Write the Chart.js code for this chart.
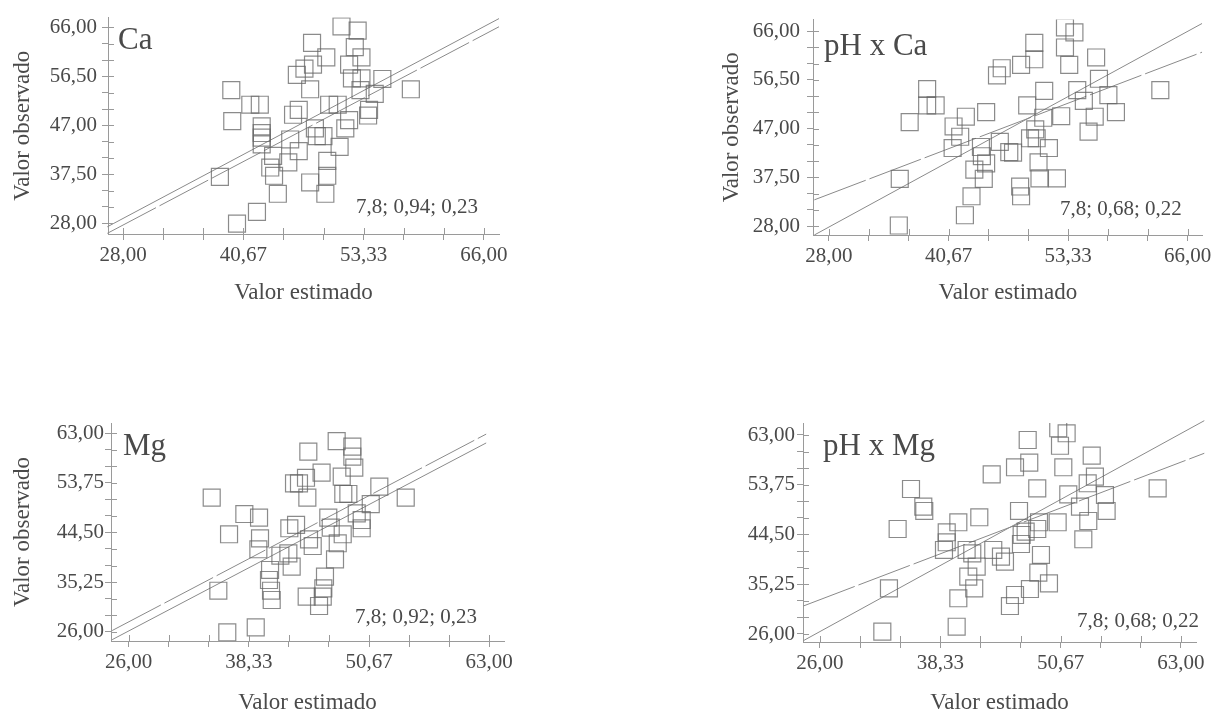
<!DOCTYPE html>
<html>
<head>
<meta charset="utf-8">
<script src="https://cdn.jsdelivr.net/npm/chart.js@4/dist/chart.umd.min.js"></script>
<style>
  html, body { margin: 0; padding: 0; background: #fff; width: 1216px; height: 711px; overflow: hidden; }
  .panel { position: absolute; }
</style>
</head>
<body>
<div class="panel" id="p1"><canvas id="c1"></canvas></div>
<div class="panel" id="p2"><canvas id="c2"></canvas></div>
<div class="panel" id="p3"><canvas id="c3"></canvas></div>
<div class="panel" id="p4"><canvas id="c4"></canvas></div>
<script>
// ---- data ----

// Ca
const caEstimado  = [51.0, 52.7, 47.9, 52.4, 49.4, 53.1, 48.0, 51.8, 47.1, 46.3, 52.1, 53.1, 55.3, 47.7, 53.0, 54.5, 58.3,
                     39.4, 41.4, 42.4, 39.5, 49.7, 50.6, 46.5, 45.9, 53.9, 53.8, 51.8, 42.6, 42.6, 42.6, 42.6, 51.4, 48.2,
                     48.4, 49.1, 45.6, 50.8, 46.5, 43.8, 45.4, 43.5, 43.9, 49.5, 49.5, 47.7, 38.2, 44.3, 49.3, 42.1, 40.0];
const caObservado = [66.2, 65.4, 63.0, 62.2, 60.2, 60.2, 58.8, 58.8, 58.0, 56.8, 56.1, 56.1, 56.0, 54.0, 53.85, 53.1, 54.0,
                     53.85, 51.0, 51.0, 47.8, 51.0, 51.0, 50.0, 49.05, 50.0, 48.9, 48.0, 46.8, 45.5, 44.6, 43.3, 46.4, 46.4,
                     44.9, 44.9, 44.25, 42.8, 42.0, 41.05, 39.8, 38.8, 37.2, 40.1, 37.2, 35.9, 37.0, 33.7, 33.7, 30.2, 27.9];
const caLineX  = [26.35, 67.58];
const caLine1Y = [27.29, 67.73];
const caLine2Y = [26.02, 66.14];

// pH x Ca
const phCaEstimado  = [53.0, 54.0, 49.75, 53.0, 49.75, 48.35, 56.3, 53.45, 46.3, 45.8, 56.6, 38.4, 50.8, 54.3, 57.6, 63.1,
                       38.4, 39.3, 49.0, 55.0, 44.65, 42.5, 36.55, 50.7, 52.6, 56.15, 58.4, 41.2, 41.9, 49.85, 55.5, 41.1,
                       44.1, 46.1, 49.3, 50.0, 51.3, 47.1, 47.5, 44.2, 44.65, 43.4, 44.4, 50.2, 50.3, 52.15, 48.25, 48.35,
                       43.1, 35.5, 42.4, 35.4];
const phCaObservado = [66.7, 65.75, 63.7, 62.8, 60.5, 59.4, 60.85, 59.4, 58.75, 57.35, 56.7, 54.7, 54.35, 54.5, 53.5, 54.5,
                       51.5, 51.5, 51.5, 52.4, 50.2, 49.3, 48.25, 49.1, 49.4, 49.3, 50.2, 47.4, 45.4, 46.85, 46.4, 43.2,
                       43.4, 44.4, 45.1, 45.1, 43.2, 42.4, 42.3, 41.6, 40.2, 39.0, 37.2, 40.4, 37.3, 37.3, 35.7, 33.8,
                       33.8, 37.2, 30.1, 28.1];
const phCaLineX  = [26.45, 67.52];
const phCaLine1Y = [26.25, 67.47];
const phCaLine2Y = [33.1, 61.88];

// Mg
const mgEstimado  = [47.35, 48.96, 44.44, 48.96, 49.16, 45.8, 44.2, 47.87, 42.97, 43.48, 44.34, 48.03, 48.55, 51.73, 54.44,
                     34.52, 37.87, 39.38, 36.3, 46.49, 42.49, 43.18, 49.41, 50.85, 49.92, 49.92, 46.74, 47.97, 44.51, 44.89,
                     39.48, 39.31, 47.46, 47.18, 41.57, 42.39, 42.73, 40.51, 40.4, 40.61, 40.68, 46.15, 45.98, 45.92, 44.27,
                     45.54, 35.2, 39.04, 36.12];
const mgObservado = [61.55, 60.5, 59.57, 58.64, 56.6, 55.65, 54.7, 54.9, 53.67, 53.67, 51.0, 51.68, 51.68, 53.04, 51.0,
                     51.0, 47.94, 47.26, 44.16, 47.26, 45.28, 45.9, 48.07, 49.8, 46.82, 45.28, 45.4, 44.16, 43.22, 41.97,
                     43.41, 41.36, 42.48, 39.49, 40.16, 40.6, 38.11, 37.5, 35.63, 33.63, 31.9, 36.25, 34.08, 32.52, 32.52,
                     30.78, 33.63, 26.8, 25.87];
const mgLineX  = [24.3, 62.7];
const mgLine1Y = [26.2, 62.85];
const mgLine2Y = [24.5, 61.2];

// pH x Mg
const phMgEstimado  = [50.42, 51.28, 47.29, 50.6, 53.85, 45.99, 47.45, 50.94, 43.6, 35.33, 48.27, 54.18, 53.44, 51.45, 55.21,
                       60.61, 36.59, 36.69, 46.4, 52.65, 55.38, 33.96, 40.18, 42.33, 48.45, 50.36, 53.5, 38.99, 38.99, 38.71,
                       41.03, 41.61, 43.76, 44.55, 44.96, 46.67, 47.08, 48.27, 46.6, 48.65, 52.99, 42.06, 41.2, 41.81, 48.38,
                       49.47, 47.52, 45.99, 45.47, 40.18, 33.07, 40.01, 32.39];
const phMgObservado = [64.25, 63.32, 62.07, 61.0, 59.15, 57.0, 57.85, 57.0, 55.69, 52.96, 53.09, 55.25, 54.02, 51.97, 51.84,
                       53.09, 49.67, 48.87, 48.87, 49.67, 48.87, 45.52, 46.77, 47.7, 46.77, 46.77, 47.01, 44.91, 43.05, 41.62,
                       41.62, 41.0, 41.62, 40.37, 39.44, 44.41, 45.02, 45.52, 42.73, 40.69, 43.61, 38.51, 36.65, 34.49, 37.4,
                       35.42, 34.36, 33.25, 31.2, 32.64, 34.49, 27.35, 26.43];
const phMgLineX  = [24.29, 65.39];
const phMgLine1Y = [24.75, 65.66];
const phMgLine2Y = [31.2, 59.6];

// tick labels
const caTicks = [28, 40.67, 53.33, 66];
const caYTicks = [28, 37.5, 47, 56.5, 66];
const mgTicks = [26, 38.33, 50.67, 63];
const mgYTicks = [26, 35.25, 44.5, 53.75, 63];

// ---- styling ----
const serif = "'Liberation Serif', 'Times New Roman', serif";
const textColor = '#4a4a4a';
const axisColor = '#9a9a9a';
const squareColor = 'rgba(100,100,100,0.75)';
const lineColor = '#8a8a8a';

const fmt = v => v.toFixed(2).replace('.', ',');

// majors plus two minor ticks in every interval
function withMinor(majors) {
  const out = [];
  for (let i = 0; i < majors.length - 1; i++) {
    const step = (majors[i + 1] - majors[i]) / 3;
    out.push(majors[i], majors[i] + step, majors[i] + 2 * step);
  }
  out.push(majors[majors.length - 1]);
  return out;
}

// short tick marks on the inner side of both axes
const innerTicks = {
  id: 'innerTicks',
  afterDatasetsDraw(chart) {
    const { ctx, chartArea: a, scales: { x, y } } = chart;
    ctx.save();
    ctx.strokeStyle = axisColor;
    ctx.lineWidth = 1;
    ctx.beginPath();
    x.ticks.forEach(t => {
      const px = Math.round(x.getPixelForValue(t.value)) + 0.5;
      ctx.moveTo(px, a.bottom);
      ctx.lineTo(px, a.bottom - 6);
    });
    y.ticks.forEach(t => {
      const py = Math.round(y.getPixelForValue(t.value)) + 0.5;
      ctx.moveTo(a.left, py);
      ctx.lineTo(a.left + 6, py);
    });
    ctx.stroke();
    ctx.restore();
  }
};

// panel name (top left) and statistics (bottom right)
const panelText = {
  id: 'panelText',
  afterDraw(chart, args, o) {
    const { ctx, chartArea: a } = chart;
    ctx.save();
    ctx.fillStyle = textColor;
    ctx.textBaseline = 'alphabetic';
    ctx.font = `31px ${serif}`;
    ctx.textAlign = 'left';
    ctx.fillText(o.label, a.left + o.labelDx, a.top + o.labelDy);
    ctx.font = `21px ${serif}`;
    ctx.textAlign = 'right';
    ctx.fillText(o.stats, a.right + o.statsDx, a.bottom + o.statsDy);
    ctx.restore();
  }
};

const toPoints = (xs, ys) => xs.map((v, i) => ({ x: v, y: ys[i] }));

function makePanel(p) {
  const div = document.getElementById(p.div);
  div.style.left = p.canvas.left + 'px';
  div.style.top = p.canvas.top + 'px';
  const cv = document.getElementById(p.id);
  cv.width = p.canvas.w;
  cv.height = p.canvas.h;
  cv.style.width = p.canvas.w + 'px';
  cv.style.height = p.canvas.h + 'px';

  const isMajor = (majors, v) => majors.some(m => Math.abs(m - v) < 1e-6);

  new Chart(cv, {
    type: 'scatter',
    data: {
      datasets: [
        {
          data: toPoints(p.xs, p.ys),
          pointStyle: 'rect',
          pointRadius: 12,
          borderColor: squareColor,
          backgroundColor: 'rgba(0,0,0,0)',
          borderWidth: 1.2,
          clip: 0
        },
        {
          type: 'line',
          data: toPoints(p.lineX, p.line1),
          borderColor: lineColor,
          borderWidth: 1,
          borderDash: p.dash1 ? [55, 4] : [],
          pointRadius: 0,
          clip: false
        },
        {
          type: 'line',
          data: toPoints(p.lineX, p.line2),
          borderColor: lineColor,
          borderWidth: 1,
          borderDash: p.dash2 ? [55, 4] : [],
          pointRadius: 0,
          clip: false
        }
      ]
    },
    options: {
      responsive: false,
      animation: false,
      devicePixelRatio: 1,
      events: [],
      layout: {
        padding: {
          left: 0,
          top: p.area.t - p.canvas.top,
          right: p.canvas.left + p.canvas.w - p.area.r,
          bottom: 0
        }
      },
      plugins: {
        legend: { display: false },
        tooltip: { enabled: false },
        panelText: p.text
      },
      scales: {
        x: {
          type: 'linear',
          min: p.xMin, max: p.xMax,
          afterBuildTicks: s => { s.ticks = withMinor(p.xMajors).map(v => ({ value: v })); },
          afterFit: s => { s.height = p.canvas.top + p.canvas.h - p.area.b; },
          grid: { drawOnChartArea: false, drawTicks: true, tickLength: 6, color: axisColor, lineWidth: 1 },
          border: { display: true, color: axisColor, width: 1 },
          ticks: {
            autoSkip: false, maxRotation: 0, padding: 3, color: textColor,
            font: { family: serif, size: 21 },
            callback: v => isMajor(p.xMajors, v) ? fmt(v) : ''
          },
          title: {
            display: true, text: 'Valor estimado', color: textColor,
            font: { family: serif, size: 23 },
            padding: { top: 0, bottom: p.xTitlePad }
          }
        },
        y: {
          type: 'linear',
          min: p.yMin, max: p.yMax,
          afterBuildTicks: s => { s.ticks = withMinor(p.yMajors).map(v => ({ value: v })); },
          afterFit: s => { s.width = p.area.l - p.canvas.left; },
          grid: { drawOnChartArea: false, drawTicks: true, tickLength: 6, color: axisColor, lineWidth: 1 },
          border: { display: true, color: axisColor, width: 1 },
          ticks: {
            autoSkip: false, padding: p.yTickPad, color: textColor,
            font: { family: serif, size: 21 },
            callback: v => isMajor(p.yMajors, v) ? fmt(v) : ''
          },
          title: {
            display: p.yTitle, text: 'Valor observado', color: textColor,
            font: { family: serif, size: 23 },
            padding: { top: p.yTitlePad, bottom: 0 }
          }
        }
      }
    },
    plugins: [innerTicks, panelText]
  });
}

makePanel({
  div: 'p1', id: 'c1',
  canvas: { left: 0, top: 0, w: 540, h: 310 },
  area: { l: 108, t: 15, r: 499, b: 234 },
  xMin: 26.42, xMax: 67.58, yMin: 25.89, yMax: 67.92,
  xMajors: caTicks, yMajors: caYTicks,
  xs: caEstimado, ys: caObservado,
  lineX: caLineX, line1: caLine1Y, line2: caLine2Y, dash1: false, dash2: true,
  xTitlePad: 3, yTitle: true, yTitlePad: 9, yTickPad: 5,
  text: { label: 'Ca', labelDx: 10, labelDy: 31, stats: '7,8; 0,94; 0,23', statsDx: -21, statsDy: -21 }
});

makePanel({
  div: 'p2', id: 'c2',
  canvas: { left: 700, top: 0, w: 516, h: 310 },
  area: { l: 813, t: 15, r: 1204, b: 235 },
  xMin: 26.31, xMax: 67.6, yMin: 26.25, yMax: 68.23,
  xMajors: caTicks, yMajors: caYTicks,
  xs: phCaEstimado, ys: phCaObservado,
  lineX: phCaLineX, line1: phCaLine1Y, line2: phCaLine2Y, dash1: false, dash2: true,
  xTitlePad: 3, yTitle: true, yTitlePad: 18, yTickPad: 7,
  text: { label: 'pH x Ca', labelDx: 11, labelDy: 35, stats: '7,8; 0,68; 0,22', statsDx: -21, statsDy: -20 }
});

makePanel({
  div: 'p3', id: 'c3',
  canvas: { left: 0, top: 400, w: 540, h: 330 },
  area: { l: 111, t: 423, r: 504, b: 641 },
  xMin: 24.18, xMax: 64.53, yMin: 24.25, yMax: 64.92,
  xMajors: mgTicks, yMajors: mgYTicks,
  xs: mgEstimado, ys: mgObservado,
  lineX: mgLineX, line1: mgLine1Y, line2: mgLine2Y, dash1: true, dash2: false,
  xTitlePad: 13, yTitle: true, yTitlePad: 9, yTickPad: 1,
  text: { label: 'Mg', labelDx: 12, labelDy: 32, stats: '7,8; 0,92; 0,23', statsDx: -27, statsDy: -18 }
});

makePanel({
  div: 'p4', id: 'c4',
  canvas: { left: 700, top: 400, w: 516, h: 330 },
  area: { l: 803, t: 423, r: 1196, b: 642 },
  xMin: 24.26, xMax: 64.54, yMin: 24.51, yMax: 65.23,
  xMajors: mgTicks, yMajors: mgYTicks,
  xs: phMgEstimado, ys: phMgObservado,
  lineX: phMgLineX, line1: phMgLine1Y, line2: phMgLine2Y, dash1: false, dash2: true,
  xTitlePad: 13, yTitle: false, yTitlePad: 0, yTickPad: 2,
  text: { label: 'pH x Mg', labelDx: 20, labelDy: 32, stats: '7,8; 0,68; 0,22', statsDx: 3, statsDy: -15 }
});
</script>
</body>
</html>
